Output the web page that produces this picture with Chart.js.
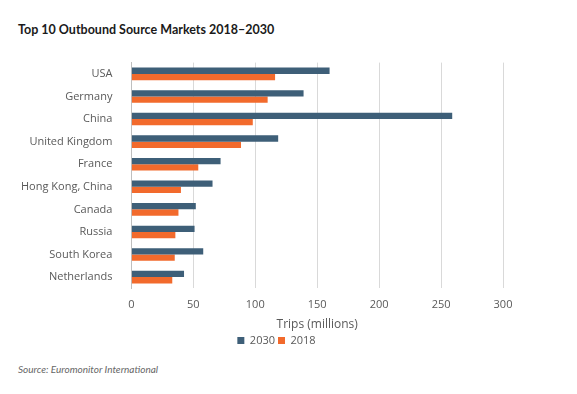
<!DOCTYPE html>
<html>
<head>
<meta charset="utf-8">
<script src="https://cdn.jsdelivr.net/npm/chart.js@4"></script>
<style>
  body { margin: 0; background: #fff; width: 577px; height: 394px; position: relative; overflow: hidden; }
  #title { position: absolute; left: 18px; top: 22px; font-family: Lato, sans-serif; font-weight: bold; font-size: 12.5px; color: #1a1a1a; }
  #source { position: absolute; left: 18px; top: 363px; font-family: Lato, sans-serif; font-style: italic; font-size: 10px; color: #666; }
  #wrap { position: absolute; left: 0; top: 45px; width: 577px; height: 313px; }
</style>
</head>
<body>
<div id="title">Top 10 Outbound Source Markets 2018–2030</div>
<div id="wrap"><canvas id="chart"></canvas></div>
<div id="source">Source: Euromonitor International</div>
<script>
const categories = ['USA', 'Germany', 'China', 'United Kingdom', 'France', 'Hong Kong, China', 'Canada', 'Russia', 'South Korea', 'Netherlands'];
const trips2030 = [160, 139, 259, 118.5, 72, 65.5, 52, 51, 58, 42.5];
const trips2018 = [116, 110, 98, 88.5, 54, 40, 38, 35.5, 35, 33];

// the legend in the source sits a bit right of the plot centre
const legendShift = {
    id: 'legendShift',
    beforeDraw(chart) {
        const legend = chart.legend;
        if (legend && !legend._shifted) {
            const draw = legend.draw.bind(legend);
            legend.draw = (area) => {
                const c = chart.ctx;
                c.save();
                c.translate(20, 0);
                draw(area);
                c.restore();
            };
            legend._shifted = true;
        }
    }
};

const ctx = document.getElementById('chart').getContext('2d');

const chart = new Chart(ctx, {
    type: 'bar',
    data: {
        labels: categories,
        datasets: [
            {
                label: '2030',
                data: trips2030,
                backgroundColor: '#3e5f78',
                barPercentage: 1,
                categoryPercentage: 0.56
            },
            {
                label: '2018',
                data: trips2018,
                backgroundColor: '#f26a2c',
                barPercentage: 1,
                categoryPercentage: 0.56
            }
        ]
    },
    options: {
        indexAxis: 'y',
        responsive: true,
        maintainAspectRatio: false,
        animation: false,
        layout: { padding: { top: 0, right: 74, left: 10, bottom: 2 } },
        scales: {
            x: {
                min: 0,
                max: 300,
                ticks: { stepSize: 50, color: '#595959', font: { family: 'Open Sans', size: 11 }, padding: 10 },
                grid: { color: '#d9d9d9', drawTicks: false },
                border: { display: false },
                title: { display: true, text: 'Trips (millions)', color: '#595959', font: { family: 'Open Sans', size: 12 }, padding: { top: -4, bottom: 0 } }
            },
            y: {
                ticks: { color: '#595959', font: { family: 'Open Sans', size: 11 }, padding: 11 },
                grid: { display: false },
                border: { display: true, color: '#bfbfbf', width: 1 }
            }
        },
        plugins: {
            legend: {
                display: true,
                position: 'bottom',
                labels: { boxWidth: 7, boxHeight: 7, padding: 3, color: '#595959', font: { family: 'Open Sans', size: 11 } }
            },
            tooltip: { enabled: false }
        }
    },
    plugins: [legendShift]
});
chart.draw();
</script>
</body>
</html>
